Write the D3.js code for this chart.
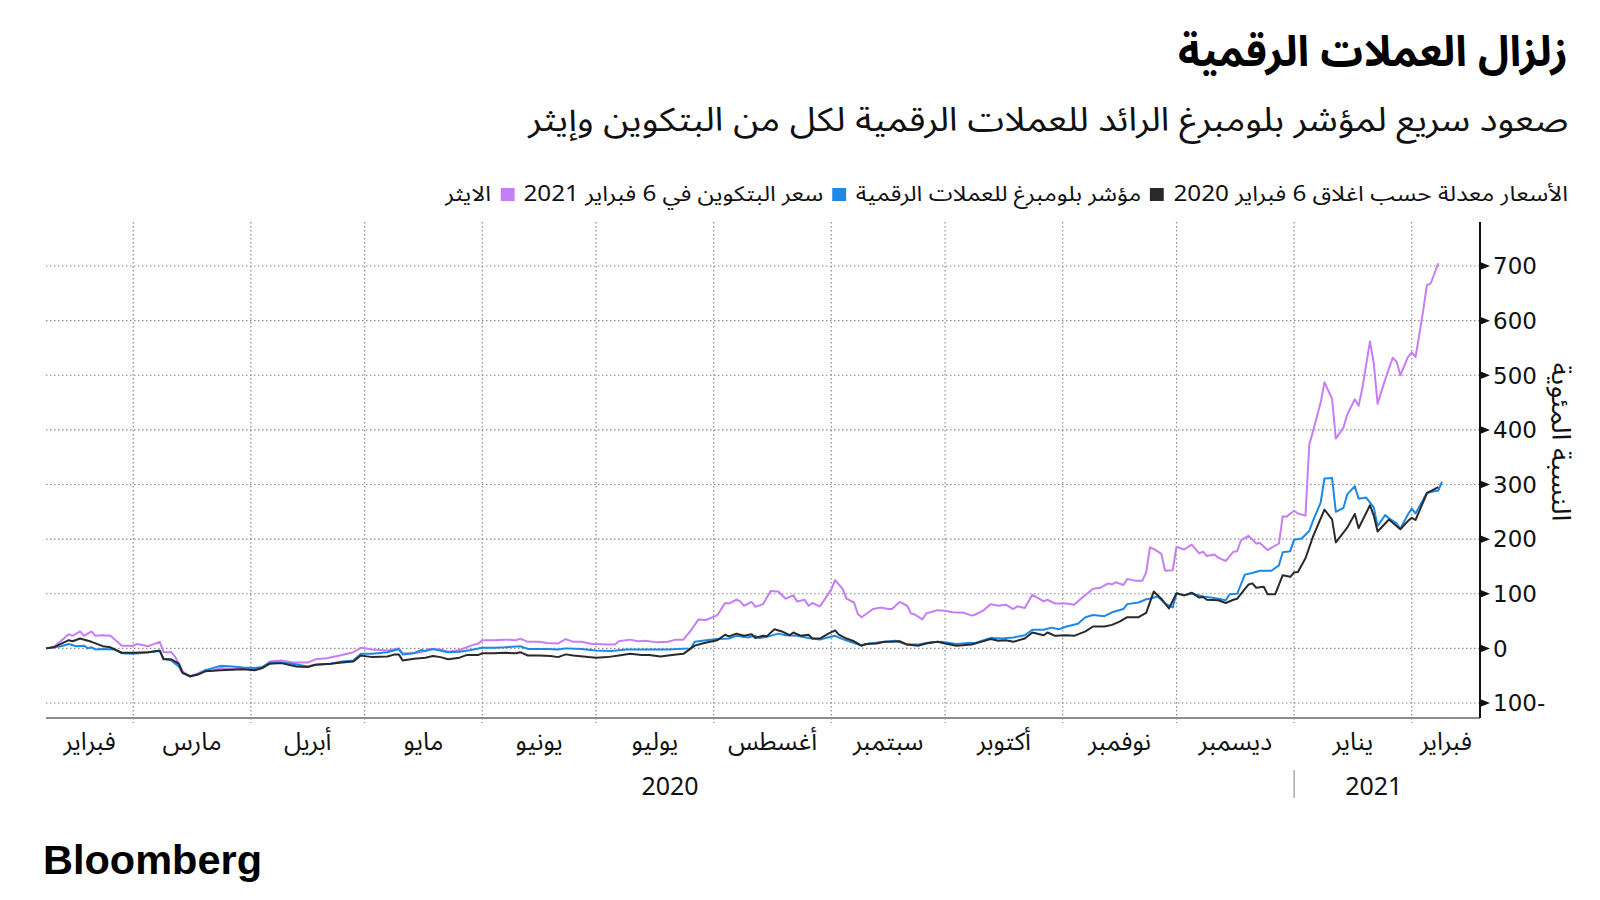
<!DOCTYPE html>
<html><head><meta charset="utf-8">
<script src="https://cdn.jsdelivr.net/npm/d3@7"></script>
<style>
body{margin:0;background:#fff;}
#wrap{position:relative;width:1600px;height:900px;overflow:hidden;background:#fff;font-family:"Noto Sans Arabic","Noto Kufi Arabic","DejaVu Sans",sans-serif;}
.ar{position:absolute;right:32px;direction:rtl;white-space:nowrap;color:#111;line-height:1;transform-origin:100% 50%;}
#title{top:32px;font-size:42.5px;font-weight:bold;color:#000;}
#subtitle{top:104px;font-size:33px;transform:scaleX(1.13);}
#legend{top:184px;font-size:21px;display:flex;align-items:center;transform:scaleX(1.155);}
#legend .sw{width:12px;height:13px;display:inline-block;margin:0 8px 0 8px;}
svg{position:absolute;left:0;top:0;}
</style></head>
<body><div id="wrap">
<div id="title" class="ar"></div>
<div id="subtitle" class="ar"></div>
<div id="legend" class="ar"></div>
<svg id="chart" width="1600" height="900"></svg>
</div>
<script>
// ---------------- data ----------------
const baseDate = "2020-02-06"; // rebased close; values are [days since base date, % change]
const titleText = "زلزال العملات الرقمية";
const subtitleText = "صعود سريع لمؤشر بلومبرغ الرائد للعملات الرقمية لكل من البتكوين وإيثر";
const legendNote = "الأسعار معدلة حسب اغلاق 6 فبراير 2020";
const seriesNames = ["مؤشر بلومبرغ للعملات الرقمية", "سعر البتكوين في 6 فبراير 2021", "الايثر"];
const seriesColors = ["#2a2a2a", "#1e88e5", "#c67ef5"];
const yTicks = [-100, 0, 100, 200, 300, 400, 500, 600, 700];
const yTitle = "النسبة المئوية";
const monthNames = ["فبراير","مارس","أبريل","مايو","يونيو","يوليو","أغسطس","سبتمبر","أكتوبر","نوفمبر","ديسمبر","يناير","فبراير"];
const monthStarts = ["2020-02-01","2020-03-01","2020-04-01","2020-05-01","2020-06-01","2020-07-01","2020-08-01","2020-09-01","2020-10-01","2020-11-01","2020-12-01","2021-01-01","2021-02-01"];
const yearLabels = ["2020","2021"];
const axisDomain = ["2020-02-07","2021-02-19"];

const ether = [[1,0],[3,2],[7,26],[8,23],[10,31],[11,23],[13,31],[14,23],[16,24],[18,23],[21,5],[24,5],[25,8],[28,4],[31,12],[32,-7],[34,-7],[35,-15],[37,-42],[39,-52],[41,-46],[43,-40],[45,-41],[47,-36],[50,-38],[53,-37],[56,-39],[58,-36],[60,-24],[63,-22],[66,-26],[70,-26],[72,-20],[75,-18],[79,-12],[82,-7],[84,1],[87,-2],[91,-4],[94,0],[95,-9],[97,-9],[100,-7],[102,-1],[105,-2],[107,-6],[110,-3],[113,5],[115,9],[116,15],[119,15],[122,16],[125,15],[126,18],[128,12],[131,12],[133,10],[136,9],[138,17],[140,12],[142,12],[145,8],[146,8],[149,7],[151,7],[152,13],[155,16],[157,13],[159,14],[162,11],[165,12],[167,16],[169,16],[171,33],[173,53],[175,52],[178,61],[180,83],[181,82],[183,89],[184,86],[185,78],[187,85],[188,76],[190,81],[192,105],[194,104],[196,91],[198,97],[199,86],[201,89],[202,78],[203,83],[205,77],[206,87],[208,108],[209,125],[211,109],[212,91],[214,84],[215,63],[216,57],[218,67],[219,72],[221,75],[223,72],[224,72],[226,85],[228,78],[229,64],[230,62],[232,53],[233,64],[236,70],[238,69],[240,66],[243,65],[245,60],[246,62],[248,69],[250,81],[252,78],[254,80],[256,72],[257,77],[259,74],[261,98],[264,86],[265,89],[267,82],[270,82],[272,80],[274,92],[277,109],[279,111],[281,119],[282,117],[283,121],[285,116],[286,127],[288,124],[290,124],[291,139],[292,185],[293,182],[295,173],[296,142],[298,143],[299,186],[301,181],[303,190],[305,174],[306,177],[307,169],[309,172],[310,166],[312,160],[314,177],[315,178],[316,198],[318,206],[320,192],[321,193],[323,180],[326,192],[327,242],[328,241],[330,252],[331,247],[333,243],[334,373],[335,398],[337,450],[338,487],[340,457],[341,384],[343,404],[344,428],[346,456],[347,444],[348,477],[350,562],[351,522],[352,448],[354,492],[356,532],[357,525],[358,500],[360,533],[361,542],[362,533],[364,617],[365,665],[366,668],[368,705]];

const bitcoin = [[1,0],[3,2],[5,4],[7,8],[9,4],[11,5],[12,0],[13,2],[14,-2],[16,-1],[19,-2],[21,-9],[24,-10],[28,-7],[31,-5],[32,-19],[34,-22],[36,-33],[37,-45],[39,-51],[41,-48],[43,-40],[47,-32],[50,-33],[53,-35],[56,-36],[58,-34],[60,-26],[63,-26],[66,-28],[70,-33],[72,-30],[76,-28],[79,-24],[82,-22],[84,-10],[87,-10],[91,-7],[94,-1],[95,-11],[98,-9],[100,-3],[101,-5],[103,-1],[107,-7],[110,-6],[113,-3],[116,1],[119,1],[122,2],[126,4],[128,-1],[133,-1],[136,-2],[138,0],[142,-1],[146,-4],[150,-5],[154,-2],[159,-2],[165,-2],[171,0],[172,12],[175,15],[178,17],[181,18],[183,23],[186,20],[188,23],[189,19],[191,21],[194,27],[196,24],[199,23],[202,19],[205,16],[207,20],[209,23],[211,17],[213,12],[216,5],[218,9],[222,12],[225,14],[228,7],[231,7],[234,11],[237,12],[241,8],[244,10],[246,10],[250,19],[253,18],[256,20],[259,24],[261,34],[264,34],[266,38],[268,35],[270,40],[273,45],[275,57],[277,61],[280,59],[282,66],[285,72],[286,81],[289,84],[291,90],[292,91],[294,95],[296,82],[298,75],[299,101],[301,97],[303,100],[305,97],[306,95],[308,93],[310,91],[312,88],[313,99],[315,100],[317,135],[319,138],[321,142],[324,142],[326,152],[327,176],[329,178],[330,199],[332,201],[334,215],[335,234],[337,267],[338,311],[340,312],[341,250],[343,257],[344,282],[346,297],[347,274],[349,276],[351,258],[352,224],[354,244],[355,238],[357,229],[358,219],[360,245],[361,256],[362,247],[364,272],[365,285],[368,289],[369,305]];

const cryptoIndex = [[1,0],[3,2],[7,15],[8,13],[10,18],[13,12],[16,4],[18,2],[21,-8],[24,-8],[28,-7],[31,-4],[32,-20],[34,-20],[36,-28],[37,-45],[39,-51],[41,-48],[43,-42],[47,-40],[50,-39],[53,-38],[56,-40],[58,-36],[60,-28],[63,-27],[67,-33],[70,-34],[72,-30],[76,-28],[79,-26],[82,-24],[84,-13],[87,-16],[91,-15],[93,-11],[94,-11],[95,-22],[98,-19],[101,-17],[103,-14],[105,-16],[107,-20],[110,-17],[112,-12],[115,-12],[116,-9],[119,-9],[122,-8],[125,-9],[126,-7],[128,-13],[131,-13],[134,-14],[136,-16],[138,-11],[140,-13],[144,-16],[146,-17],[149,-16],[152,-13],[155,-10],[158,-12],[160,-12],[163,-15],[166,-12],[169,-10],[170,-5],[172,5],[174,9],[176,12],[178,15],[180,25],[181,22],[183,27],[185,23],[187,26],[188,19],[190,23],[191,22],[193,35],[195,31],[197,24],[198,29],[200,23],[202,25],[203,18],[205,18],[207,26],[209,33],[210,25],[212,18],[214,13],[216,5],[217,8],[220,9],[222,12],[224,12],[226,13],[228,7],[231,5],[233,9],[236,12],[238,9],[241,5],[245,7],[250,17],[252,14],[254,15],[256,12],[259,18],[261,29],[264,24],[265,29],[267,23],[270,24],[272,23],[275,31],[277,40],[280,40],[282,43],[284,49],[286,57],[289,57],[291,65],[293,104],[295,91],[297,73],[299,101],[301,97],[303,102],[305,93],[306,94],[307,89],[310,88],[312,83],[314,89],[315,91],[318,117],[319,119],[320,111],[322,113],[323,99],[325,99],[327,134],[329,131],[330,139],[331,140],[333,165],[335,205],[338,254],[340,236],[341,194],[344,221],[346,246],[347,220],[350,262],[351,243],[352,214],[355,236],[358,218],[360,233],[361,239],[362,235],[365,284],[368,295]];

// ---------------- layout ----------------
const parse = d3.utcParse("%Y-%m-%d");
const base = parse(baseDate);
const toDate = n => d3.utcDay.offset(base, n);
const plot = {left: 46, right: 1480, top: 222, bottom: 718};

const x = d3.scaleUtc().domain(axisDomain.map(parse)).range([plot.left, plot.right]);
const y = d3.scaleLinear().domain([-100, 700]).range([703, 266]);

// header
d3.select("#title").text(titleText);
d3.select("#subtitle").text(subtitleText);
const leg = d3.select("#legend");
leg.append("span").text(legendNote);
seriesNames.forEach((name, i) => {
  leg.append("span").attr("class", "sw").style("background", seriesColors[i]);
  leg.append("span").text(name);
});

const svg = d3.select("#chart");
const gridColor = "#8a8a8a";

// horizontal grid
svg.append("g").selectAll("line").data(yTicks).join("line")
  .attr("x1", plot.left).attr("x2", plot.right)
  .attr("y1", d => y(d)).attr("y2", d => y(d))
  .attr("stroke", gridColor).attr("stroke-width", 1.2).attr("stroke-dasharray", "1.5,2.5");

// vertical grid at month starts
const monthDates = monthStarts.map(parse);
svg.append("g").selectAll("line").data(monthDates.slice(1)).join("line")
  .attr("x1", d => x(d)).attr("x2", d => x(d))
  .attr("y1", plot.top).attr("y2", plot.bottom + 5)
  .attr("stroke", gridColor).attr("stroke-width", 1.2).attr("stroke-dasharray", "1.5,2.5");

// baseline
svg.append("line").attr("x1", plot.left).attr("x2", plot.right)
  .attr("y1", plot.bottom).attr("y2", plot.bottom)
  .attr("stroke", "#8c8c8c").attr("stroke-width", 2);

// month labels centred in each month span
const dom = x.domain();
const axisFont = '"Noto Sans Arabic","DejaVu Sans",sans-serif';
svg.append("g").selectAll("text").data(monthNames).join("text")
  .attr("x", (d, i) => {
    const a = d3.max([monthDates[i], dom[0]]);
    const b = i + 1 < monthDates.length ? monthDates[i + 1] : dom[1];
    return (x(a) + x(b)) / 2;
  })
  .attr("y", 750)
  .attr("text-anchor", "middle")
  .attr("font-size", 25)
  .attr("fill", "#111")
  .attr("font-family", axisFont)
  .text(d => d);

// year labels
const jan2021 = parse("2021-01-01");
const yearPos = [(x(dom[0]) + x(jan2021)) / 2, (x(jan2021) + x(parse("2021-02-12"))) / 2];
svg.append("g").selectAll("text").data(yearLabels).join("text")
  .attr("x", (d, i) => yearPos[i]).attr("y", 795)
  .attr("text-anchor", "middle").attr("font-size", 25).attr("fill", "#111")
  .attr("font-family", '"Noto Sans","DejaVu Sans",sans-serif')
  .text(d => d);
svg.append("line").attr("x1", x(jan2021)).attr("x2", x(jan2021))
  .attr("y1", 770).attr("y2", 798).attr("stroke", "#999").attr("stroke-width", 1.2);

// lines
const line = d3.line().x(d => x(toDate(d[0]))).y(d => y(d[1]));
const series = [ether, bitcoin, cryptoIndex];
const colorOrder = [seriesColors[2], seriesColors[1], seriesColors[0]];
svg.append("g").selectAll("path").data(series).join("path")
  .attr("d", line).attr("fill", "none")
  .attr("stroke", (d, i) => colorOrder[i])
  .attr("stroke-width", 2).attr("stroke-linejoin", "round");

// right axis
svg.append("line").attr("x1", plot.right).attr("x2", plot.right)
  .attr("y1", plot.top).attr("y2", plot.bottom)
  .attr("stroke", "#111").attr("stroke-width", 2);
svg.append("g").selectAll("path").data(yTicks).join("path")
  .attr("d", d => `M${plot.right},${y(d) - 4}L${plot.right + 10},${y(d)}L${plot.right},${y(d) + 4}Z`)
  .attr("fill", "#111");
svg.append("g").selectAll("text").data(yTicks).join("text")
  .attr("x", plot.right + 13).attr("y", d => y(d)).attr("dy", "0.36em")
  .attr("font-size", 23).attr("font-family", '"DejaVu Sans",sans-serif').attr("fill", "#111")
  .text(d => d < 0 ? Math.abs(d) + "-" : d);

svg.append("text").attr("transform", "translate(1552,442) rotate(90) scale(1.12,1)")
  .attr("text-anchor", "middle").attr("font-size", 26).attr("fill", "#111")
  .attr("font-family", axisFont)
  .text(yTitle);

// logo
svg.append("text").attr("x", 43).attr("y", 874)
  .attr("font-family", '"Liberation Sans",Arial,sans-serif').attr("font-weight", "bold")
  .attr("font-size", 41.5).attr("fill", "#000").text("Bloomberg");
</script>
</body></html>
